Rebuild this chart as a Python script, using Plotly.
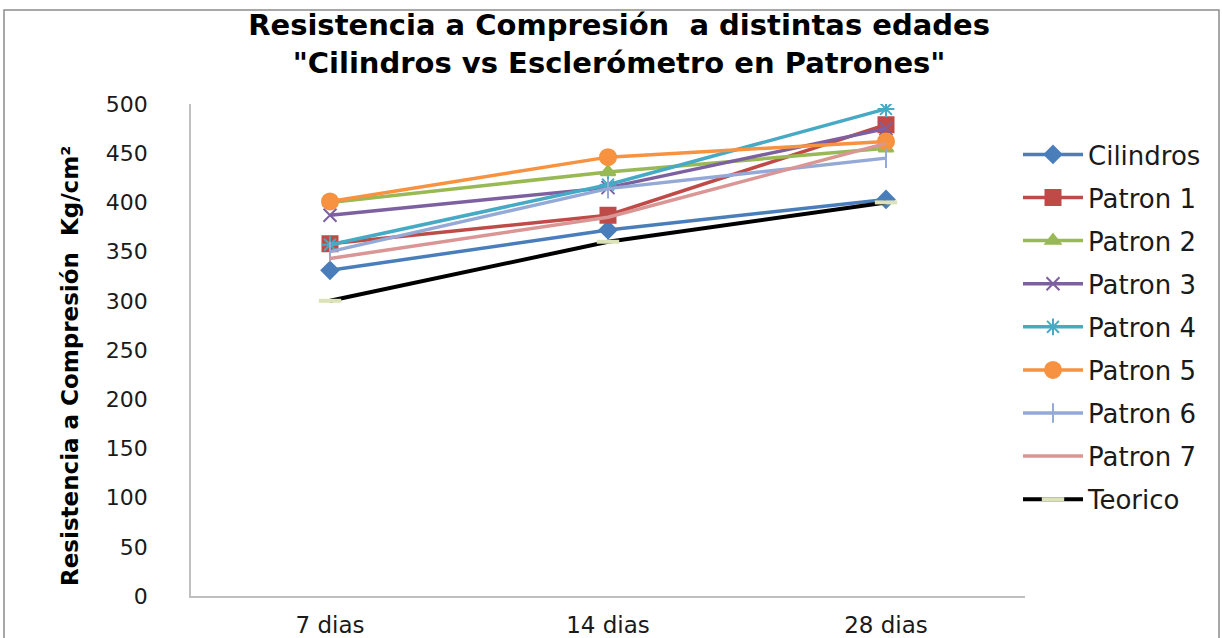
import plotly.graph_objects as go

# Ages at which the specimens were tested
edades = ["7 dias", "14 dias", "28 dias"]

# Compressive strength (Kg/cm²) per series
cilindros = [331, 372, 403]
patron_1 = [358, 387, 479]
patron_2 = [400, 431, 455]
patron_3 = [387, 415, 475]
patron_4 = [357, 418, 495]
patron_5 = [401, 446, 462]
patron_6 = [350, 414, 445]
patron_7 = [343, 385, 460]
teorico = [300, 360, 400]

series = [
    ("Cilindros", cilindros, "#4A7EBB", "diamond", 13),
    ("Patron 1", patron_1, "#BE4B48", "square", 15),
    ("Patron 2", patron_2, "#98B954", "triangle-up", 13),
    ("Patron 3", patron_3, "#7D60A0", "x-thin-open", 13),
    ("Patron 4", patron_4, "#46AAC5", "asterisk-open", 14),
    ("Patron 5", patron_5, "#F69240", "circle", 16),
    ("Patron 6", patron_6, "#95A9D6", "line-ns-open", 14),
    ("Patron 7", patron_7, "#D99694", None, 0),
]

FONT = "DejaVu Sans, Arial, sans-serif"

fig = go.Figure()
for i, (name, vals, color, symbol, size) in enumerate(series):
    if symbol is None:
        mode = "lines"
        marker = None
    else:
        mode = "lines+markers"
        marker = dict(symbol=symbol, size=size, color=color,
                      line=dict(color=color, width=2))
    fig.add_trace(go.Scatter(
        x=edades, y=vals, name=name, mode=mode,
        line=dict(color=color, width=3.5),
        marker=marker, legendgroup=f"g{i}",
    ))

fig.add_trace(go.Scatter(
    x=edades, y=teorico, name="Teorico", mode="lines+markers",
    line=dict(color="#000000", width=4),
    marker=dict(symbol="line-ew-open", size=16, color="#DDE3B8",
                line=dict(color="#DDE3B8", width=4)),
    legendgroup="g9",
))

L, R, T, B = 191, 197, 104, 42
W, H = 1222, 638
pw, ph = W - L - R, H - T - B

def px_x(p):
    return (p - L) / pw

def px_y(p):
    return (H - B - p) / ph

fig.update_layout(
    width=W, height=H,
    margin=dict(l=L, r=R, t=T, b=B, autoexpand=False),
    paper_bgcolor="white", plot_bgcolor="white",
    font=dict(family=FONT, color="#1a1a1a"),
    title=dict(
        text="<b>Resistencia a Compresión  a distintas edades<br>\"Cilindros vs Esclerómetro en Patrones\"</b>",
        x=0.5066, xanchor="center", y=0.945, yanchor="top",
        font=dict(family=FONT, size=29, color="#000000"),
    ),
    showlegend=True,
    legend=dict(
        x=px_x(1018), xanchor="left", y=px_y(131), yanchor="top",
        font=dict(family=FONT, size=26, color="#1a1a1a"),
        tracegroupgap=6.3, itemwidth=60,
        bgcolor="rgba(0,0,0,0)",
    ),
    xaxis=dict(
        type="category", range=[-0.5, 2.5],
        showline=True, linecolor="#BFBFBF", linewidth=1.5,
        showgrid=False, ticks="", ticklabelstandoff=8,
        tickfont=dict(family=FONT, size=23, color="#1a1a1a"),
    ),
    yaxis=dict(
        range=[0, 500], dtick=50, tick0=0,
        showline=True, linecolor="#BFBFBF", linewidth=1.5,
        showgrid=False, zeroline=False, ticks="", ticklabelstandoff=37,
        tickfont=dict(family=FONT, size=22, color="#1a1a1a"),
    ),
    annotations=[dict(
        text="<b>Resistencia a Compresión  Kg/cm²</b>",
        textangle=-90, xref="paper", yref="paper",
        x=px_x(70), y=px_y(366), xanchor="center", yanchor="middle",
        showarrow=False, font=dict(family=FONT, size=23, color="#000000"),
    )],
    shapes=[dict(
        type="rect", xref="paper", yref="paper",
        x0=px_x(4), x1=px_x(1219), y0=px_y(640), y1=px_y(10),
        line=dict(color="#8C8C8C", width=1.5), fillcolor="rgba(0,0,0,0)",
        layer="below",
    )],
)

fig.write_html("out.html")
